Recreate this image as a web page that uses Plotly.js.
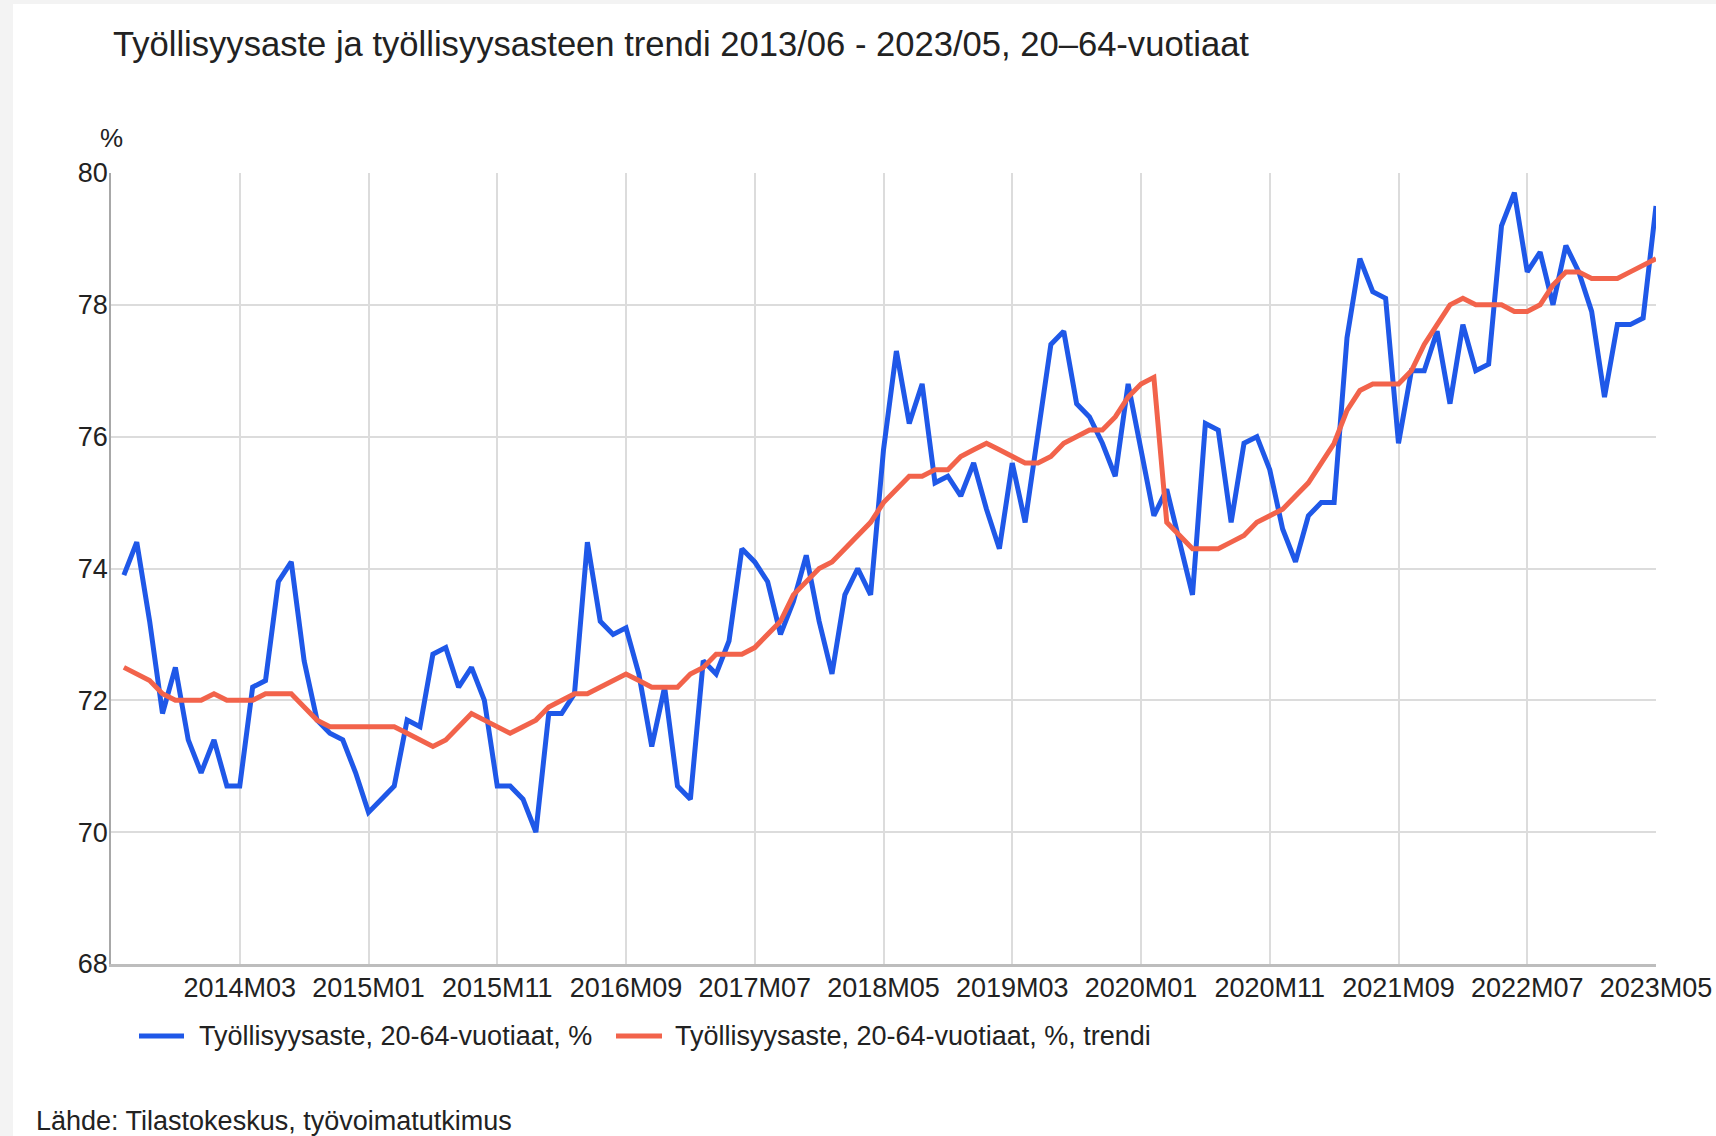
<!DOCTYPE html>
<html>
<head>
<meta charset="utf-8">
<script src="https://cdn.plot.ly/plotly-3.0.1.min.js"></script>
<style>
  html, body { margin: 0; padding: 0; background: #f3f3f3; width: 1716px; height: 1136px; overflow: hidden; }
  #chart { position: absolute; left: 13px; top: 4px; width: 1703px; height: 1132px; background: #ffffff; }
</style>
</head>
<body>
<div id="chart"></div>
<script>
// Months 2013M06 .. 2023M05
const months = [];
for (let y = 2013, m = 6; months.length < 120; m++) {
  if (m > 12) { m = 1; y++; }
  months.push(y + "M" + String(m).padStart(2, "0"));
}

// Työllisyysaste, 20-64-vuotiaat, %
const employmentRate = [
  73.9, 74.4, 73.2, 71.8, 72.5, 71.4, 70.9, 71.4, 70.7, 70.7,
  72.2, 72.3, 73.8, 74.1, 72.6, 71.7, 71.5, 71.4, 70.9, 70.3,
  70.5, 70.7, 71.7, 71.6, 72.7, 72.8, 72.2, 72.5, 72.0, 70.7,
  70.7, 70.5, 70.0, 71.8, 71.8, 72.1, 74.4, 73.2, 73.0, 73.1,
  72.4, 71.3, 72.2, 70.7, 70.5, 72.6, 72.4, 72.9, 74.3, 74.1,
  73.8, 73.0, 73.5, 74.2, 73.2, 72.4, 73.6, 74.0, 73.6, 75.8,
  77.3, 76.2, 76.8, 75.3, 75.4, 75.1, 75.6, 74.9, 74.3, 75.6,
  74.7, 76.0, 77.4, 77.6, 76.5, 76.3, 75.9, 75.4, 76.8, 75.8,
  74.8, 75.2, 74.4, 73.6, 76.2, 76.1, 74.7, 75.9, 76.0, 75.5,
  74.6, 74.1, 74.8, 75.0, 75.0, 77.5, 78.7, 78.2, 78.1, 75.9,
  77.0, 77.0, 77.6, 76.5, 77.7, 77.0, 77.1, 79.2, 79.7, 78.5,
  78.8, 78.0, 78.9, 78.5, 77.9, 76.6, 77.7, 77.7, 77.8, 79.5
];

// Työllisyysaste, 20-64-vuotiaat, %, trendi
const employmentTrend = [
  72.5, 72.4, 72.3, 72.1, 72.0, 72.0, 72.0, 72.1, 72.0, 72.0,
  72.0, 72.1, 72.1, 72.1, 71.9, 71.7, 71.6, 71.6, 71.6, 71.6,
  71.6, 71.6, 71.5, 71.4, 71.3, 71.4, 71.6, 71.8, 71.7, 71.6,
  71.5, 71.6, 71.7, 71.9, 72.0, 72.1, 72.1, 72.2, 72.3, 72.4,
  72.3, 72.2, 72.2, 72.2, 72.4, 72.5, 72.7, 72.7, 72.7, 72.8,
  73.0, 73.2, 73.6, 73.8, 74.0, 74.1, 74.3, 74.5, 74.7, 75.0,
  75.2, 75.4, 75.4, 75.5, 75.5, 75.7, 75.8, 75.9, 75.8, 75.7,
  75.6, 75.6, 75.7, 75.9, 76.0, 76.1, 76.1, 76.3, 76.6, 76.8,
  76.9, 74.7, 74.5, 74.3, 74.3, 74.3, 74.4, 74.5, 74.7, 74.8,
  74.9, 75.1, 75.3, 75.6, 75.9, 76.4, 76.7, 76.8, 76.8, 76.8,
  77.0, 77.4, 77.7, 78.0, 78.1, 78.0, 78.0, 78.0, 77.9, 77.9,
  78.0, 78.3, 78.5, 78.5, 78.4, 78.4, 78.4, 78.5, 78.6, 78.7
];

const xTickLabels = ["2014M03", "2015M01", "2015M11", "2016M09", "2017M07", "2018M05",
                     "2019M03", "2020M01", "2020M11", "2021M09", "2022M07", "2023M05"];

const seriesNames = ["Työllisyysaste, 20-64-vuotiaat, %", "Työllisyysaste, 20-64-vuotiaat, %, trendi"];
const seriesColors = ["#1f58e8", "#f2634b"];

const FONT = "Liberation Sans, Arial, sans-serif";
const TXT = "#222222";

const traces = [
  { type: "scatter", mode: "lines", x: months, y: employmentRate, name: seriesNames[0],
    line: { color: seriesColors[0], width: 5 } },
  { type: "scatter", mode: "lines", x: months, y: employmentTrend, name: seriesNames[1],
    line: { color: seriesColors[1], width: 5 } }
];

// plot area in page pixels: left 111, right 1656, top 173, bottom 964
const PX = (px) => (px - 111) / 1545;
const PY = (py) => (964 - py) / 791;

const legendY = PY(1036);
const legendItems = [
  { x0: 139, x1: 184, tx: 197 },
  { x0: 616, x1: 662, tx: 673 }
];

const shapes = legendItems.map((it, i) => ({
  type: "line", xref: "paper", yref: "paper",
  x0: PX(it.x0), x1: PX(it.x1), y0: legendY, y1: legendY,
  line: { color: seriesColors[i], width: 5 }
}));

const annotations = [
  { text: "%", xref: "paper", yref: "paper", x: 0, y: PY(138),
    xanchor: "center", yanchor: "middle", showarrow: false,
    font: { family: FONT, size: 26, color: TXT } },
  { text: "Lähde: Tilastokeskus, työvoimatutkimus", xref: "paper", yref: "paper",
    x: PX(34), y: PY(1121), xanchor: "left", yanchor: "middle",
    showarrow: false, font: { family: FONT, size: 27, color: TXT } }
].concat(legendItems.map((it, i) => ({
  text: seriesNames[i], xref: "paper", yref: "paper", x: PX(it.tx), y: legendY,
  xanchor: "left", yanchor: "middle", showarrow: false,
  font: { family: FONT, size: 27, color: TXT }
})));

const layout = {
  width: 1703, height: 1132,
  margin: { l: 98, r: 60, t: 169, b: 172 },
  paper_bgcolor: "#ffffff", plot_bgcolor: "#ffffff",
  font: { family: FONT, color: TXT, size: 27 },
  title: {
    text: "Työllisyysaste ja työllisyysasteen trendi 2013/06 - 2023/05, 20–64-vuotiaat",
    font: { family: FONT, size: 34.6, color: TXT },
    xref: "container", x: 100 / 1703, xanchor: "left",
    yref: "container", y: 1 - 40 / 1132, yanchor: "middle"
  },
  xaxis: {
    type: "category", range: [-1, 119], autorange: false,
    tickmode: "array", tickvals: xTickLabels, ticktext: xTickLabels,
    tickangle: 0,
    showgrid: true, gridcolor: "#dcdcdc", gridwidth: 1.5,
    showline: true, linecolor: "#bdbdbd", linewidth: 2.5,
    ticks: "", ticklabelstandoff: -2, tickfont: { family: FONT, size: 27, color: TXT },
    automargin: false, fixedrange: true
  },
  yaxis: {
    range: [68, 80], autorange: false, tick0: 68, dtick: 2,
    showgrid: true, gridcolor: "#dcdcdc", gridwidth: 1.5,
    showline: true, linecolor: "#a8a8a8", linewidth: 1.5,
    zeroline: false, ticks: "", ticklabelstandoff: -4,
    tickfont: { family: FONT, size: 27, color: TXT },
    automargin: false, fixedrange: true
  },
  showlegend: false,
  shapes: shapes,
  annotations: annotations
};

Plotly.newPlot("chart", traces, layout, { displayModeBar: false, responsive: false });
</script>
</body>
</html>
